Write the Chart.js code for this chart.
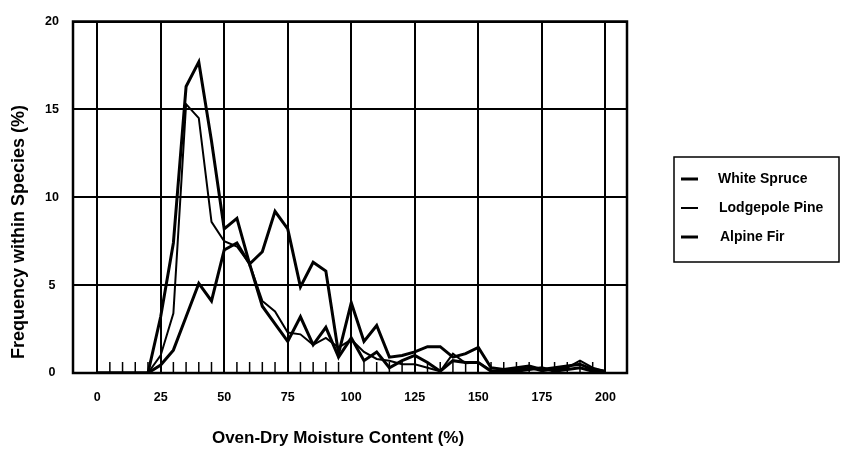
<!DOCTYPE html>
<html>
<head>
<meta charset="utf-8">
<script src="https://cdn.jsdelivr.net/npm/chart.js@4.4.0/dist/chart.umd.min.js"></script>
<style>
  html, body { margin: 0; padding: 0; background: #fff; }
  #wrap { width: 841px; height: 452px; }
</style>
</head>
<body>
<div id="wrap"><canvas id="grafico" width="841" height="452"></canvas></div>
<script>
// moisture content classes (%), one point every 5 %
const moisture = [0, 5, 10, 15, 20, 25, 30, 35, 40, 45, 50, 55, 60, 65, 70, 75, 80, 85, 90, 95, 100,
  105, 110, 115, 120, 125, 130, 135, 140, 145, 150, 155, 160, 165, 170, 175, 180, 185, 190, 195, 200];

const whiteSpruce = [0, 0, 0, 0, 0, 3.2, 7.4, 16.3, 17.7, 13.2, 8.2, 8.8, 6.2, 6.9, 9.2, 8.2, 4.9, 6.3, 5.8, 1.1, 4.0,
  1.8, 2.7, 0.9, 1.0, 1.2, 1.5, 1.5, 0.9, 1.1, 1.45, 0.3, 0.2, 0.3, 0.4, 0.2, 0.3, 0.4, 0.5, 0.2, 0.1];
const lodgepolePine = [0, 0, 0, 0, 0, 1.0, 3.4, 15.3, 14.5, 8.6, 7.5, 7.2, 6.2, 4.1, 3.5, 2.3, 2.2, 1.6, 2.0, 1.45, 1.9,
  1.2, 0.8, 0.7, 0.5, 0.5, 0.3, 0.1, 1.1, 0.55, 0.6, 0.15, 0.1, 0.2, 0.3, 0.1, 0.2, 0.3, 0.7, 0.3, 0.1];
const alpineFir = [0, 0, 0, 0, 0, 0.45, 1.3, 3.2, 5.1, 4.1, 7.0, 7.4, 6.2, 3.8, 2.8, 1.8, 3.2, 1.6, 2.6, 0.9, 2.0,
  0.7, 1.2, 0.3, 0.7, 1.0, 0.6, 0.1, 0.7, 0.6, 0.6, 0.1, 0.1, 0.1, 0.2, 0.3, 0.1, 0.2, 0.3, 0.1, 0.05];

const xTicks = [0, 25, 50, 75, 100, 125, 150, 175, 200];
const minorTicks = [5, 10, 15, 20, 30, 35, 40, 45, 55, 60, 65, 70, 80, 85, 90, 95, 105, 110, 115, 120,
  130, 135, 140, 145, 155, 160, 165, 170, 180, 185, 190, 195];
const yTicks = [0, 5, 10, 15, 20];

const FUENTE = 'Arial, "Liberation Sans", sans-serif';

function puntos(serie) {
  return serie.map((v, i) => ({ x: moisture[i], y: v }));
}

// frame, small ticks, titles and boxed legend like the original figure
const extras = {
  id: 'extras',
  afterDraw(chart) {
    const c = chart.ctx;
    const a = chart.chartArea;
    const x = chart.scales.x;
    c.save();
    c.strokeStyle = '#000';
    c.lineWidth = 1.5;
    minorTicks.forEach(v => {
      const px = x.getPixelForValue(v);
      c.beginPath();
      c.moveTo(px, a.bottom);
      c.lineTo(px, a.bottom - 11);
      c.stroke();
    });
    c.lineWidth = 2.5;
    c.strokeRect(a.left, a.top, a.right - a.left, a.bottom - a.top);

    c.fillStyle = '#000';
    c.textAlign = 'center';
    c.textBaseline = 'middle';
    c.font = 'bold 17px ' + FUENTE;
    c.fillText('Oven-Dry Moisture Content (%)', 338, 438);
    c.save();
    c.translate(19, 232);
    c.rotate(-Math.PI / 2);
    c.font = 'bold 18px ' + FUENTE;
    c.fillText('Frequency within Species (%)', 0, 0);
    c.restore();

    // legend
    c.lineWidth = 1.5;
    c.strokeRect(674, 157, 165, 105);
    c.textAlign = 'left';
    c.font = 'bold 14px ' + FUENTE;
    chart.data.datasets.forEach((ds, i) => {
      const y = 179 + i * 29;
      c.lineWidth = ds.borderWidth;
      c.beginPath();
      c.moveTo(681, y);
      c.lineTo(698, y);
      c.stroke();
      c.fillText(ds.label, 718 + i, y);
    });
    c.restore();
  }
};

const ctx = document.getElementById('grafico').getContext('2d');
const grafico = new Chart(ctx, {
  type: 'line',
  data: {
    datasets: [
      { label: 'White Spruce', data: puntos(whiteSpruce), borderColor: '#000', borderWidth: 3 },
      { label: 'Lodgepole Pine', data: puntos(lodgepolePine), borderColor: '#000', borderWidth: 2 },
      { label: 'Alpine Fir', data: puntos(alpineFir), borderColor: '#000', borderWidth: 3 }
    ]
  },
  options: {
    responsive: false,
    animation: false,
    devicePixelRatio: 1,
    layout: { padding: { top: 10, right: 214, bottom: 0, left: 0 } },
    elements: { point: { radius: 0 }, line: { tension: 0, fill: false } },
    plugins: { legend: { display: false }, tooltip: { enabled: false } },
    scales: {
      x: {
        type: 'linear',
        min: -9.5,
        max: 208.5,
        afterBuildTicks: s => { s.ticks = xTicks.map(v => ({ value: v })); },
        afterFit: s => { s.height = 79; },
        grid: { color: '#000', lineWidth: 2, drawTicks: false },
        border: { display: false },
        ticks: { color: '#000', font: { family: FUENTE, size: 12.5, weight: 'bold' }, padding: 17, maxRotation: 0, autoSkip: false }
      },
      y: {
        min: 0,
        max: 20,
        afterBuildTicks: s => { s.ticks = yTicks.map(v => ({ value: v })); },
        afterFit: s => { s.width = 73; },
        grid: { color: '#000', lineWidth: 2, drawTicks: false },
        border: { display: false },
        ticks: { color: '#000', font: { family: FUENTE, size: 12.5, weight: 'bold' }, padding: 14, crossAlign: 'center' }
      }
    }
  },
  plugins: [extras]
});
</script>
</body>
</html>
